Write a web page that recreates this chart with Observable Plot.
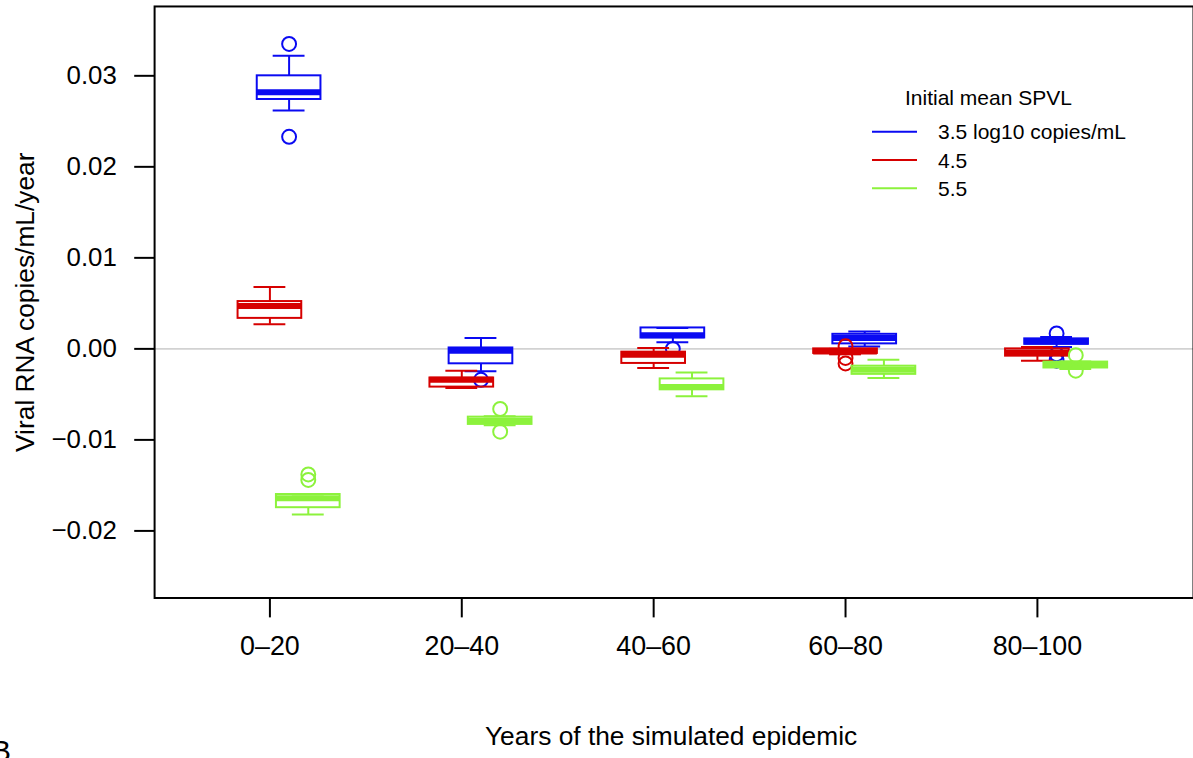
<!DOCTYPE html>
<html><head><meta charset="utf-8">
<script src="https://cdn.jsdelivr.net/npm/d3@7"></script>
<script src="https://cdn.jsdelivr.net/npm/@observablehq/plot@0.6"></script>
<style>
html,body{margin:0;padding:0;background:#fff;overflow:hidden;}
#wrap{position:relative;width:1193px;height:758px;overflow:hidden;font-family:"Liberation Sans",Arial,Helvetica,sans-serif;}
#wrap svg{position:absolute;left:0;top:0;}
#B{position:absolute;left:-9px;top:734px;font-size:30px;color:#000;}
</style></head><body><div id="wrap"></div>
<script>
// ---- data ----
const periods = ["0\u201320", "20\u201340", "40\u201360", "60\u201380", "80\u2013100"];
const periodPositions = [1, 2, 3, 4, 5];
const series = ["3.5 log10 copies/mL", "4.5", "5.5"];
const colors = ["#0a0af2", "#d60000", "#8cf23c"];
const offsets = [0.1, 0, 0.2];
const yTicks = [-0.02, -0.01, 0, 0.01, 0.02, 0.03];
// [low whisker, Q1, median, Q3, high whisker] per period
const blueStats = [
  [0.0262, 0.0274, 0.0282, 0.0300, 0.0322],
  [-0.00247, -0.00164, -0.0002, 0.0001, 0.0012],
  [0.00073, 0.0012, 0.0015, 0.0023, 0.0023],
  [0.00025, 0.00055, 0.0012, 0.0016, 0.0019],
  [0.0002, 0.0005, 0.0008, 0.0011, 0.0013]
];
const redStats = [
  [0.0027, 0.00335, 0.0047, 0.0052, 0.0068],
  [-0.0043, -0.0042, -0.0034, -0.0032, -0.0024],
  [-0.0021, -0.0016, -0.00065, -0.00036, 0.0001],
  [-0.0006, -0.0005, -0.0003, 0.0000, 0.0000],
  [-0.0013, -0.0008, -0.0004, 0.0000, 0.0002]
];
const greenStats = [
  [-0.0182, -0.01745, -0.0164, -0.0160, -0.0160],
  [-0.0084, -0.0083, -0.0079, -0.0075, -0.0074],
  [-0.0052, -0.0045, -0.0042, -0.0033, -0.0026],
  [-0.0032, -0.0028, -0.0023, -0.0019, -0.0012],
  [-0.0022, -0.0021, -0.0017, -0.00145, -0.0014]
];
const blueOutliers = [[0.0335, 0.0233], [-0.0034], [0.0000], [], [0.0017, -0.0006, -0.0013]];
const redOutliers = [[], [], [], [0.0003, -0.0010, -0.0016], []];
const greenOutliers = [[-0.0138, -0.0144], [-0.0066, -0.0091], [], [], [-0.0007, -0.0024]];

const allStats = [blueStats, redStats, greenStats];
const allOutliers = [blueOutliers, redOutliers, greenOutliers];

// ---- layout constants ----
const hw = 0.166;   // half box width (x units)
const cw = 0.083;   // half cap width

const marks = [
  Plot.ruleY([0], {stroke: "#d2d2d2", strokeWidth: 2})
];
series.forEach((s, si) => {
  const rows = allStats[si].map((v, i) => ({
    x: periodPositions[i] + offsets[si], lo: v[0], q1: v[1], med: v[2], q3: v[3], hi: v[4]
  }));
  const outs = allOutliers[si].flatMap((arr, i) => arr.map(y => ({x: periodPositions[i] + offsets[si], y})));
  const c = colors[si];
  marks.push(
    Plot.ruleX(rows, {x: "x", y1: "lo", y2: "q1", stroke: c, strokeWidth: 2}),
    Plot.ruleX(rows, {x: "x", y1: "q3", y2: "hi", stroke: c, strokeWidth: 2}),
    Plot.ruleY(rows, {y: "lo", x1: d => d.x - cw, x2: d => d.x + cw, stroke: c, strokeWidth: 2}),
    Plot.ruleY(rows, {y: "hi", x1: d => d.x - cw, x2: d => d.x + cw, stroke: c, strokeWidth: 2}),
    Plot.rect(rows, {x1: d => d.x - hw, x2: d => d.x + hw, y1: "q1", y2: "q3", fill: "none", stroke: c, strokeWidth: 2}),
    Plot.ruleY(rows, {y: "med", x1: d => d.x - hw, x2: d => d.x + hw, stroke: c, strokeWidth: 6}),
    Plot.dot(outs, {x: "x", y: "y", r: 7, stroke: c, strokeWidth: 2, fill: "none"})
  );
});
marks.push(
  Plot.frame({stroke: "#000", strokeWidth: 2}),
  Plot.axisY({ticks: yTicks, tickFormat: d3.format(".2f"), tickSize: 20, tickPadding: 18, fontSize: 26, strokeWidth: 2, stroke: "#000", fill: "#000", label: null}),
  Plot.axisX({ticks: periodPositions, tickFormat: d => periods[d - 1], tickSize: 20, tickPadding: 18, fontSize: 27, strokeWidth: 2, stroke: "#000", fill: "#000", label: null}),
  Plot.text(["Years of the simulated epidemic"], {frameAnchor: "bottom", textAnchor: "middle", lineAnchor: "middle", dy: 139, dx: -3, fontSize: 26.5, fill: "#000"}),
  Plot.text(["Viral RNA copies/mL/year"], {frameAnchor: "left", textAnchor: "middle", lineAnchor: "middle", dx: -130, rotate: -90, fontSize: 26.5, fill: "#000"})
);

const chart = Plot.plot({
  width: 1200, height: 758,
  marginLeft: 155, marginRight: 0, marginTop: 6, marginBottom: 157,
  style: {fontFamily: '"Liberation Sans", Arial, Helvetica, sans-serif', fontSize: "26px", background: "#fff", color: "#000"},
  x: {domain: [0.399, 5.8135]},
  y: {domain: [-0.02737, 0.03762]},
  marks
});
const wrap = document.getElementById("wrap");
wrap.appendChild(chart);

// ---- legend ----
const leg = d3.select(wrap).append("svg")
  .attr("width", 300).attr("height", 140)
  .style("left", "860px").style("top", "70px")
  .style("font-family", '"Liberation Sans", Arial, Helvetica, sans-serif');
leg.append("text").attr("x", 45).attr("y", 27.3).attr("dominant-baseline", "central")
  .attr("font-size", 21).text("Initial mean SPVL");
series.forEach((s, i) => {
  const y = 61.7 + i * 28.3;
  leg.append("line").attr("x1", 12).attr("x2", 57).attr("y1", y).attr("y2", y)
    .attr("stroke", colors[i]).attr("stroke-width", 2);
  leg.append("text").attr("x", 78).attr("y", y).attr("dominant-baseline", "central")
    .attr("font-size", 21).text(s);
});
const b = document.createElement("div");
b.id = "B"; b.textContent = "B";
wrap.appendChild(b);
</script></body></html>
